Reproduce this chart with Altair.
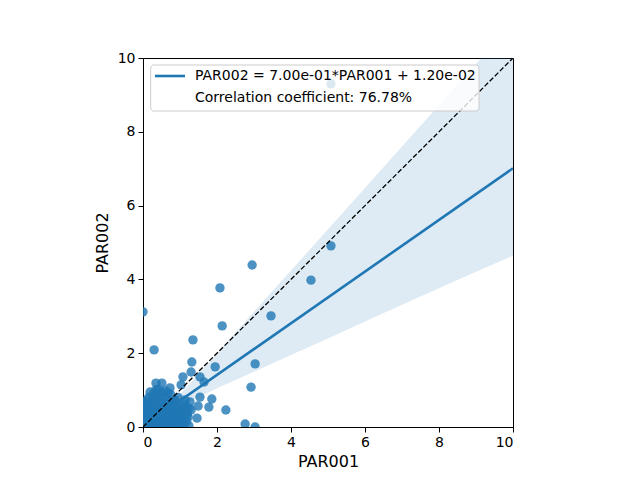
import altair as alt
import pandas as pd

# scatter points (PAR001, PAR002)
par001 = [0.00, 0.30, 2.08, 2.95, 2.14, 1.35, 3.46, 4.54, 5.08, 5.08,
          3.03, 2.92, 1.95, 1.65, 1.32, 1.30, 2.76, 3.03, 2.24, 1.86,
          1.78, 1.54, 1.46, 1.49, 1.24, 1.24, 1.08, 1.03, 1.54, 0.51,
          0.35, 0.19, 0.35, 0.68, 0.86, 1.27, 1.30, 1.22, 1.03, 0.73,
          1.14,
          0.00, 0.00, 0.00, 0.00, 0.00, 0.05, 0.05, 0.08, 0.10, 0.10,
          0.12, 0.15, 0.18, 0.20, 0.22, 0.25, 0.25, 0.28, 0.30, 0.30,
          0.32, 0.35, 0.38, 0.40, 0.40, 0.42, 0.45, 0.48, 0.50, 0.50,
          0.52, 0.55, 0.58, 0.60, 0.60, 0.62, 0.65, 0.68, 0.70, 0.70,
          0.72, 0.75, 0.78, 0.80, 0.82, 0.85, 0.88, 0.90, 0.92, 0.95,
          0.98, 1.00, 1.02, 1.05, 1.08, 1.10, 1.12, 1.15, 1.18, 0.15,
          0.20, 0.45, 0.55, 0.62, 0.08, 0.03, 0.35, 0.85, 0.95, 0.75,
          0.40, 0.60, 0.28, 0.12, 0.18, 0.65, 0.58, 0.90, 1.00,
          0.02, 0.06, 0.10, 0.14, 0.22, 0.26, 0.33, 0.37, 0.44, 0.47,
          0.53, 0.57, 0.63, 0.67, 0.74, 0.77, 0.83, 0.87, 0.93, 0.97,
          1.04, 1.07, 1.13, 1.17, 1.20, 0.10, 0.30, 0.50, 0.70, 0.90,
          0.04, 0.16, 0.24, 0.42, 0.64, 0.80, 0.00, 0.13, 0.46, 0.80]
par002 = [3.12, 2.09, 3.77, 4.39, 2.74, 2.36, 3.01, 3.98, 4.91, 9.30,
          1.71, 1.08, 1.63, 1.22, 1.76, 1.49, 0.08, 0.00, 0.46, 0.76,
          0.54, 0.81, 0.24, 0.57, 0.51, 0.03, 1.36, 1.14, 1.36, 1.19,
          1.19, 0.95, 1.00, 0.92, 0.73, 0.68, 0.46, 0.27, 0.19, 1.06,
          0.73,
          0.00, 0.10, 0.25, 0.40, 0.55, 0.05, 0.30, 0.15, 0.00, 0.45,
          0.60, 0.20, 0.35, 0.05, 0.50, 0.15, 0.70, 0.30, 0.00, 0.45,
          0.60, 0.10, 0.25, 0.40, 0.00, 0.55, 0.15, 0.30, 0.05, 0.65,
          0.45, 0.20, 0.35, 0.00, 0.55, 0.10, 0.28, 0.45, 0.00, 0.70,
          0.18, 0.35, 0.55, 0.05, 0.25, 0.45, 0.12, 0.60, 0.32, 0.00,
          0.20, 0.42, 0.55, 0.10, 0.30, 0.00, 0.62, 0.38, 0.15, 0.80,
          0.65, 0.80, 0.85, 0.75, 0.50, 0.65, 0.85, 0.70, 0.80, 0.88,
          1.02, 0.98, 0.90, 0.02, 0.00, 0.05, 0.02, 0.05, 0.15,
          0.20, 0.38, 0.28, 0.48, 0.35, 0.02, 0.18, 0.55, 0.35, 0.22,
          0.28, 0.48, 0.40, 0.15, 0.28, 0.48, 0.38, 0.22, 0.45, 0.10,
          0.25, 0.48, 0.20, 0.52, 0.35, 0.72, 0.75, 0.95, 0.60, 0.50,
          0.45, 0.58, 0.38, 0.68, 0.62, 0.38, 0.68, 0.40, 0.08, 0.15]

# confidence band
band_x = [0, 1, 2, 3, 4, 5, 6, 7, 8, 9, 10]
band_lo = [-0.10, 0.55, 1.05, 1.50, 1.95, 2.40, 2.86, 3.31, 3.76, 4.21, 4.64]
band_hi = [0.27, 0.88, 2.00, 3.12, 4.24, 5.36, 6.48, 7.60, 8.72, 9.84, 10.96]

# fitted line end points and y = x diagonal
fit_x = [0, 10]
fit_y = [0.012, 7.012]
diag_x = [0, 10]
diag_y = [0, 10]

legend_line1 = "PAR002 = 7.00e-01*PAR001 + 1.20e-02"
legend_line2 = "Correlation coefficient: 76.78%"

BLUE = "#1f77b4"
pts = pd.DataFrame({"x": par001, "y": par002})
band = pd.DataFrame({"x": band_x, "lo": band_lo, "hi": band_hi})
fit = pd.DataFrame({"x": fit_x, "y": fit_y})
diag = pd.DataFrame({"x": diag_x, "y": diag_y})

xs = alt.Scale(domain=[0, 10], nice=False)
ys = alt.Scale(domain=[0, 10], nice=False)
xaxis = alt.Axis(values=[0, 2, 4, 6, 8, 10], title="PAR001")
yaxis = alt.Axis(values=[0, 2, 4, 6, 8, 10], title="PAR002")

points = alt.Chart(pts).mark_circle(size=88, opacity=0.8, color=BLUE, clip=True).encode(
    x=alt.X("x:Q", scale=xs, axis=xaxis),
    y=alt.Y("y:Q", scale=ys, axis=yaxis),
)
band_layer = alt.Chart(band).mark_area(color=BLUE, opacity=0.15, clip=True).encode(
    x=alt.X("x:Q", scale=xs), y=alt.Y("lo:Q", scale=ys), y2="hi:Q"
)
fit_layer = alt.Chart(fit).mark_line(color=BLUE, strokeWidth=2.6, clip=True).encode(
    x=alt.X("x:Q", scale=xs), y=alt.Y("y:Q", scale=ys)
)
diag_layer = alt.Chart(diag).mark_line(color="black", strokeWidth=1.3, strokeDash=[5, 2.2], clip=True).encode(
    x=alt.X("x:Q", scale=xs), y=alt.Y("y:Q", scale=ys)
)

one = alt.Data(values=[{"a": 1}])
leg_box = alt.Chart(one).mark_rect(fill="white", fillOpacity=0.8, stroke="#cccccc",
                                    strokeWidth=1, cornerRadius=3).encode(
    x=alt.value(7.7), x2=alt.value(336), y=alt.value(7), y2=alt.value(53)
)
leg_sym = alt.Chart(one).mark_rule(color=BLUE, strokeWidth=2.6).encode(
    x=alt.value(12), x2=alt.value(42), y=alt.value(18)
)
leg_t1 = alt.Chart(one).mark_text(align="left", baseline="middle", fontSize=14,
                                   color="black", text=legend_line1).encode(
    x=alt.value(52), y=alt.value(18)
)
leg_t2 = alt.Chart(one).mark_text(align="left", baseline="middle", fontSize=14,
                                   color="black", text=legend_line2).encode(
    x=alt.value(52), y=alt.value(40)
)

chart = alt.layer(points, band_layer, fit_layer, diag_layer, leg_box, leg_sym, leg_t1, leg_t2).properties(
    width=370, height=369,
    padding={"left": 86, "top": 43, "right": 5, "bottom": 5},
).configure(font="DejaVu Sans").configure_view(
    stroke="black", strokeWidth=1
).configure_axis(
    grid=False, domainColor="black", domainWidth=1, tickColor="black", tickSize=5,
    tickWidth=1, labelFontSize=14, labelColor="black", labelPadding=3,
    titleFontSize=16, titleFontWeight="normal", titleColor="black",
    labelFont="DejaVu Sans", titleFont="DejaVu Sans",
).configure_axisX(titlePadding=4).configure_axisY(titlePadding=7)

chart.save("out.html", embed_options={"renderer": "svg", "actions": False})
